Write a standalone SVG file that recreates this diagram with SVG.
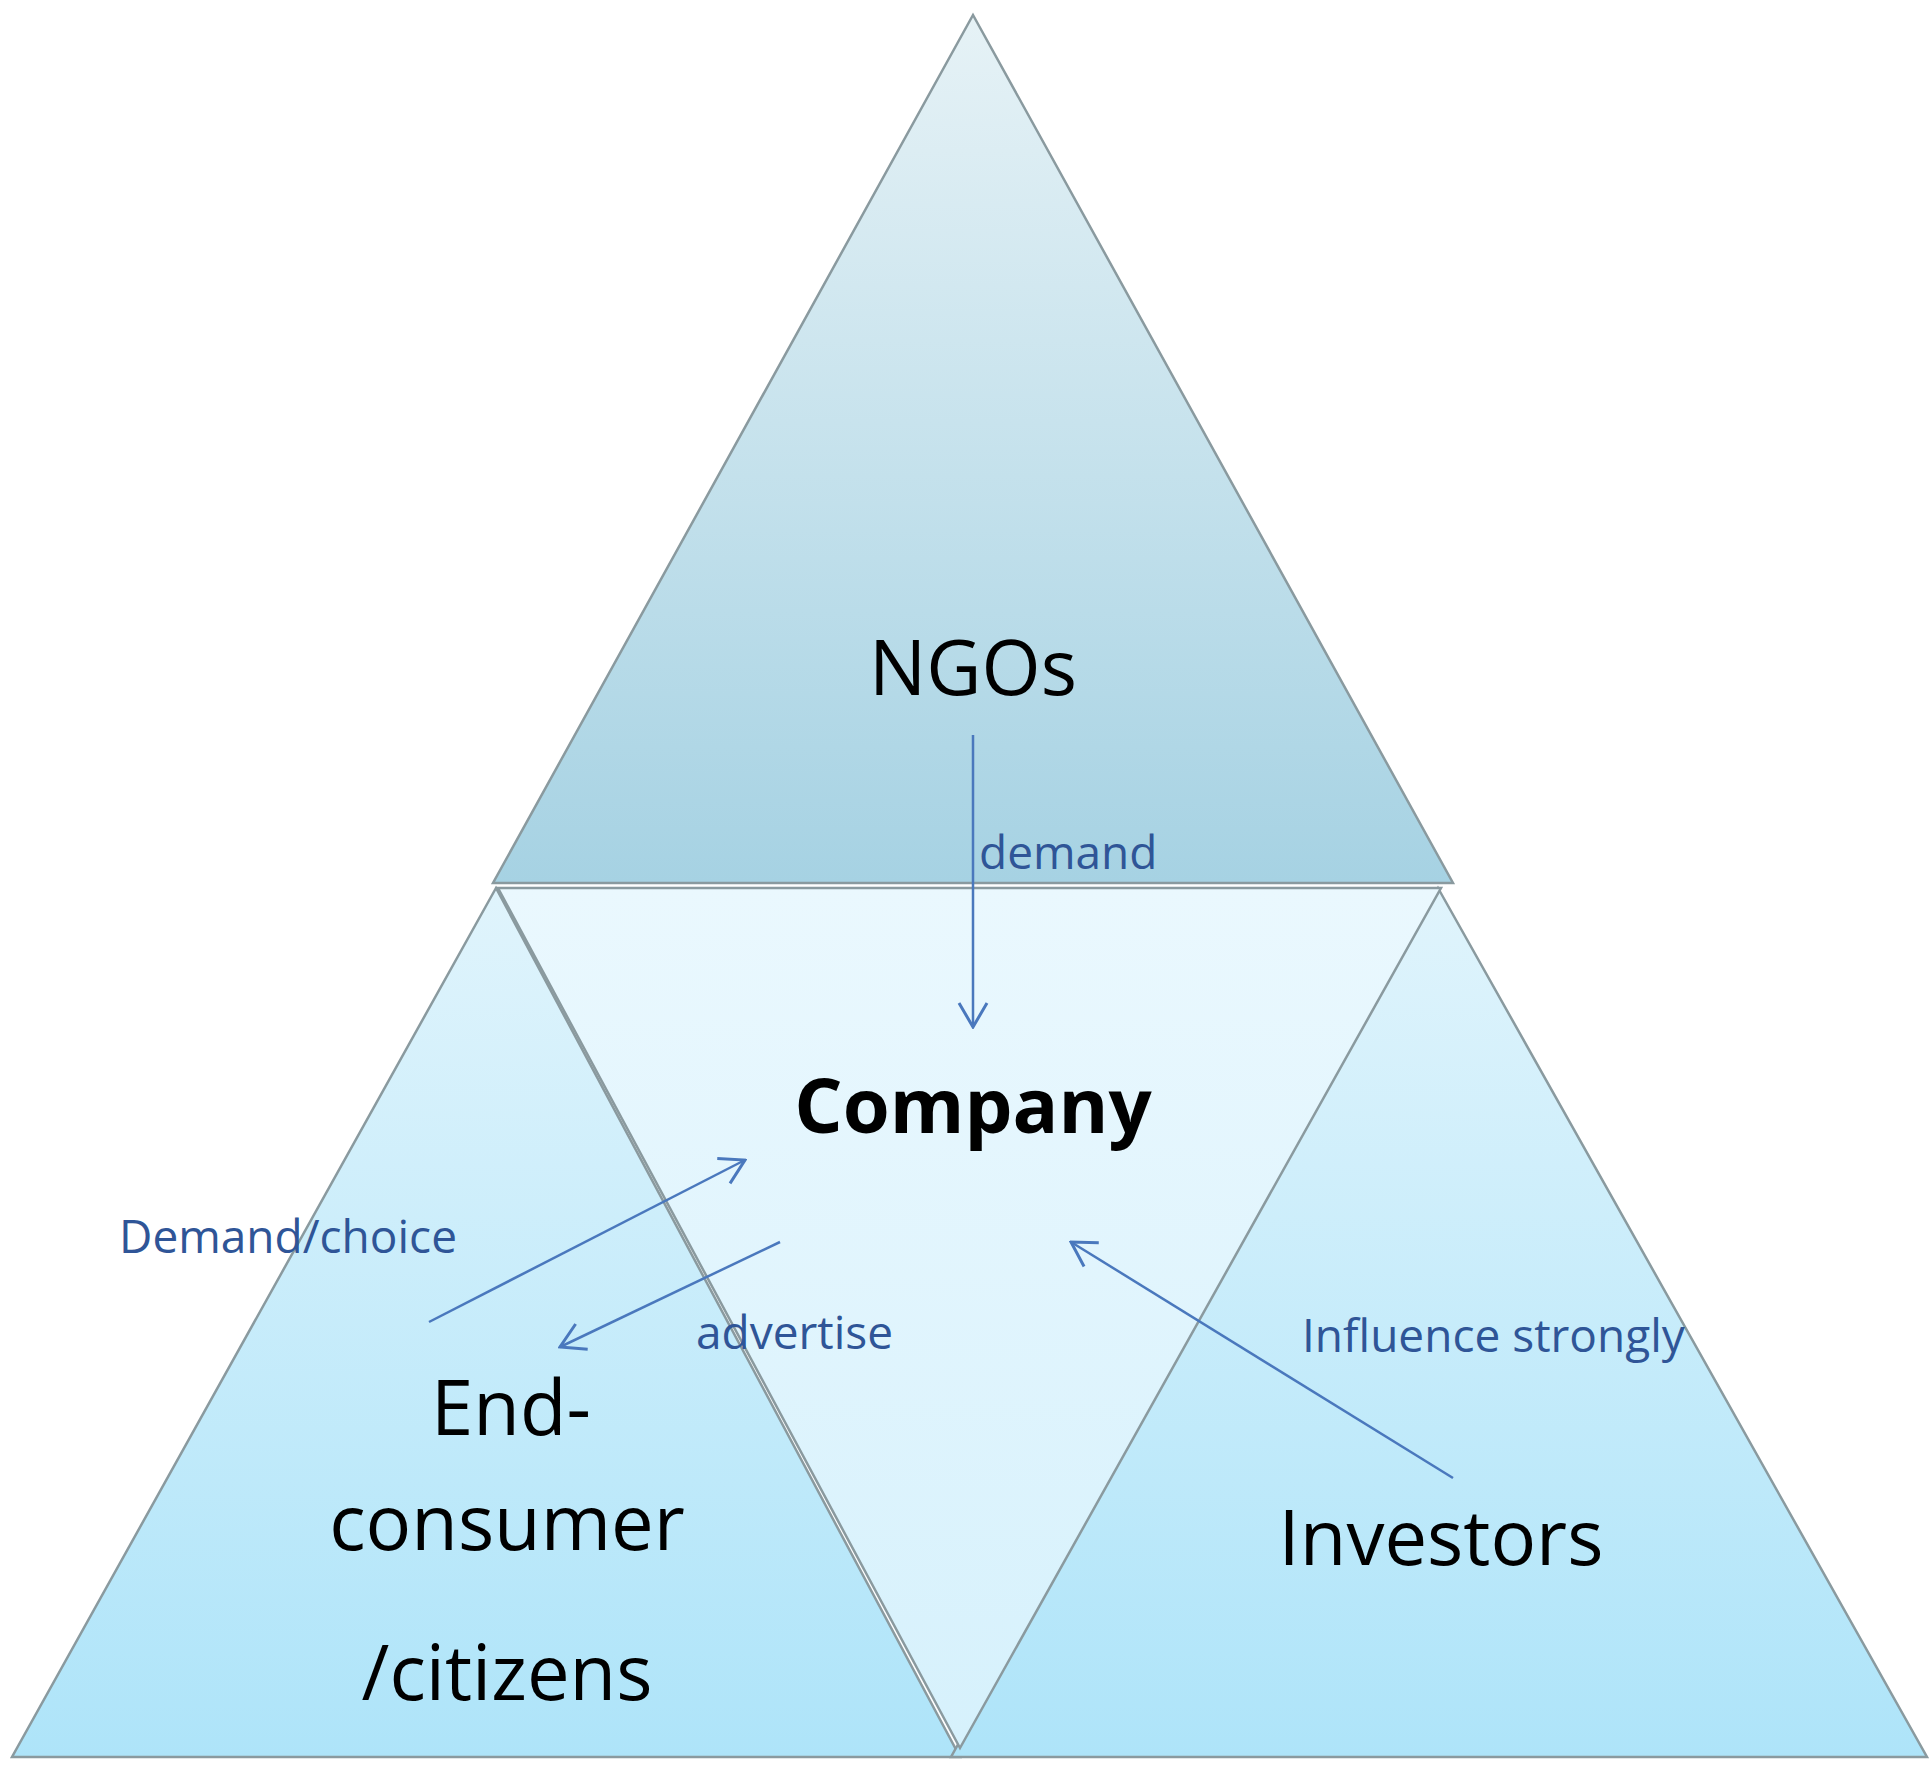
<svg xmlns="http://www.w3.org/2000/svg" width="1931" height="1774" viewBox="0 0 1931 1774">
<defs>
<linearGradient id="gTop" x1="0" y1="0" x2="0" y2="1"><stop offset="0" stop-color="#e6f2f6"/><stop offset="1" stop-color="#a6d2e3"/></linearGradient>
<linearGradient id="gSide" x1="0" y1="0" x2="0" y2="1"><stop offset="0" stop-color="#e0f4fc"/><stop offset="1" stop-color="#aee4f9"/></linearGradient>
<linearGradient id="gMid" x1="0" y1="0" x2="0" y2="1"><stop offset="0" stop-color="#eaf8fe"/><stop offset="1" stop-color="#d6f1fc"/></linearGradient>
<marker id="ah" markerWidth="12" markerHeight="12" refX="10" refY="6" orient="auto" markerUnits="userSpaceOnUse" viewBox="0 0 12 12">
<path d="M0,0 L10,6 L0,12" fill="none" stroke="#4a78bd" stroke-width="1.5"/></marker>
<marker id="ah2" markerWidth="40" markerHeight="40" refX="38" refY="20" orient="auto" markerUnits="userSpaceOnUse" viewBox="0 0 40 40">
<path d="M14,6 L38,20 L14,34" fill="none" stroke="#4a78bd" stroke-width="3"/></marker>
</defs>
<style>
.tri{stroke:#8a9a9f;stroke-width:2.5}
.big{font-family:"Open Sans","Liberation Sans",sans-serif;font-size:76px;fill:#000;text-anchor:middle}
.lbl{font-family:"Open Sans","Liberation Sans",sans-serif;font-size:46px;fill:#2f5597}
.conn{stroke:#4a78bd;stroke-width:2.5;fill:none;marker-end:url(#ah2)}
</style>
<rect width="1931" height="1774" fill="#fff"/>
<g id="ngos"><polygon class="tri" points="973,15 1453,883 493,883" fill="url(#gTop)"/><text class="big" x="973" y="695">NGOs</text></g>
<g id="endconsumer"><polygon class="tri" points="496,888 960,1757 12,1757" fill="url(#gSide)"/>
<text class="big" x="511" y="1435">End-</text><text class="big" x="507" y="1550">consumer</text><text class="big" x="507" y="1700">/citizens</text></g>
<g id="investors"><polygon class="tri" points="1438,888 1927,1757 951,1757" fill="url(#gSide)"/><text class="big" x="1441" y="1565">Investors</text></g>
<g id="company"><polygon class="tri" points="498,888 1441,888 960,1748" fill="url(#gMid)"/><text class="big" x="973" y="1133" font-weight="bold">Company</text></g>
<g id="connectors">
<line class="conn" x1="973" y1="735" x2="973" y2="1027"/>
<line class="conn" x1="429" y1="1322" x2="745" y2="1160"/>
<line class="conn" x1="780" y1="1242" x2="560" y2="1347"/>
<line class="conn" x1="1453" y1="1478" x2="1071" y2="1242"/>
<text class="lbl" x="979" y="869">demand</text>
<text class="lbl" x="119" y="1253">Demand/choice</text>
<text class="lbl" x="696" y="1349">advertise</text>
<text class="lbl" x="1302" y="1352">Influence strongly</text>
</g>
</svg>
